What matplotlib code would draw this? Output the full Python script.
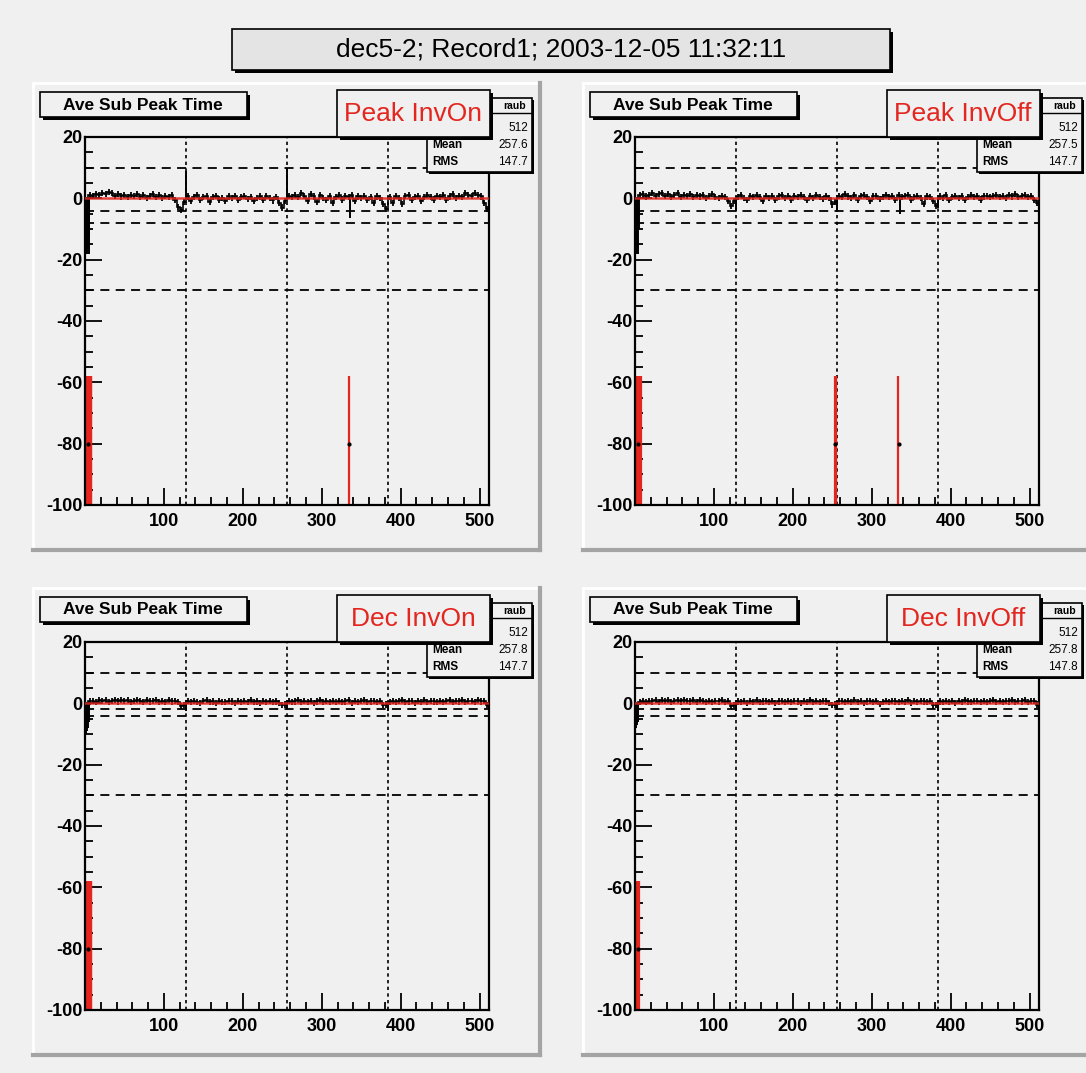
import numpy as np
import matplotlib.pyplot as plt
from matplotlib.patches import Rectangle
from matplotlib.ticker import MultipleLocator, FixedLocator

plt.rcParams['font.family'] = ['Liberation Sans', 'DejaVu Sans']
plt.rcParams['axes.unicode_minus'] = False

W, H = 1086, 1073
BG = '#f0f0f0'
RED = '#e3261f'

title = 'dec5-2; Record1; 2003-12-05 11:32:11'
hist_title = 'Ave Sub Peak Time'
labels = ['Peak InvOn', 'Peak InvOff', 'Dec InvOn', 'Dec InvOff']
means = ['257.6', '257.5', '257.8', '257.8']
rmss = ['147.7', '147.7', '147.7', '147.8']
entries = '512'

# average offset per group of 4 channels (128 groups)
tl_noise = [-1.0, 1.2, 0.8, 1.5, 1.0, 1.8, 1.3, 2.0, 1.6, 0.9, 1.4, 0.6, 1.1, 0.3, 1.2, 0.7,
            1.5, 0.4, 1.0, 0.2, 0.9, 1.3, 0.5, 1.1, 0.0, 0.8, 0.3, 1.0, -0.6, -2.8, -3.8, -1.2,
            0.6, -0.8, 0.4, 1.0, -0.5, 0.3, 0.9, -1.2, 0.5, 0.8, -0.4, 0.2, -0.9, 0.6, 0.0, 0.7,
            -0.6, 0.4, 0.8, -0.3, 0.5, -1.0, 0.2, 0.6, -0.5, 0.9, 0.1, -0.7, 0.4, -1.5, -3.0, -1.0,
            0.8, 0.3, 1.2, 0.5, 1.6, 0.9, -0.8, 1.4, 0.6, -1.2, 1.0, 0.2, -0.6, 0.7, -1.5, 0.4,
            1.1, -0.4, 0.8, 0.3, 1.0, -0.8, 0.6, 0.2, 0.9, -0.5, 0.4, -1.4, 0.6, 0.1, -1.8, -3.5,
            0.5, -1.5, 0.9, 0.2, -1.8, 0.7, 1.1, -0.6, 0.4, 0.9, -0.9, 0.3, 1.2, 0.5, -0.4, 0.8,
            0.3, 1.0, -0.5, 0.6, 1.4, 0.2, 0.9, 0.4, 1.6, 1.1, 0.7, 1.8, 1.2, 0.6, -1.5, -3.5]
tr_noise = [-1.0, 1.0, 1.4, 0.6, 1.2, 1.7, 0.9, 1.5, 1.8, 0.7, 1.3, 0.4, 1.1, 1.6, 0.5, 1.2,
            0.8, 1.4, 0.3, 1.0, 0.6, 1.2, 0.2, 0.9, 1.3, 0.5, 0.0, 0.8, 0.4, -0.8, -2.5, -1.0,
            0.5, 1.0, 0.2, -0.6, 0.8, 0.3, 1.1, 0.4, -0.9, 0.7, 0.2, 0.9, -0.5, 0.6, 1.0, 0.1,
            0.7, -0.4, 0.9, 0.3, 1.2, 0.5, -0.6, 0.8, 0.2, 1.0, 0.4, -0.3, 0.6, 0.0, -2.0, -1.2,
            0.9, 0.4, 1.3, 0.6, 0.2, 1.0, -0.5, 0.7, 1.1, 0.3, -0.8, 0.6, 0.9, -0.2, 0.5, 1.0,
            0.4, 0.8, -0.6, 1.1, 0.3, 0.7, 1.2, -0.4, 0.5, 0.9, 0.2, -1.8, 0.6, 0.3, -0.9, -2.5,
            0.6, 0.2, 1.0, -0.5, 0.4, 0.8, 0.1, 0.9, -0.6, 0.5, 1.1, 0.3, 0.7, -0.4, 0.6, 0.9,
            0.3, 0.8, 1.2, 0.5, 0.9, 0.2, 1.0, 0.6, 1.3, 0.4, 0.8, 1.1, 0.5, 0.7, -0.5, -1.5]
bl_noise = [-1.0, 0.6, 0.9, 0.4, 1.0, 0.7, 1.2, 0.5, 0.9, 1.1, 0.6, 1.0, 0.8, 1.2, 0.5, 0.9,
            1.1, 0.7, 0.4, 1.0, 0.6, 0.9, 1.2, 0.5, 0.8, 0.3, 1.0, 0.6, 0.9, 0.4, -0.8, -0.5,
            0.7, 0.3, 0.9, 0.5, 0.2, 0.8, 1.0, 0.4, 0.6, 0.1, 0.9, 0.5, 0.3, 0.8, 0.6, 0.2,
            0.9, 0.5, 0.7, 0.3, 1.0, 0.4, 0.6, 0.2, 0.8, 0.5, 0.9, 0.3, 0.6, 0.1, -0.6, -0.4,
            0.8, 0.4, 0.6, 1.0, 0.3, 0.7, 0.5, 0.9, 0.2, 0.6, 1.1, 0.4, 0.8, 0.3, 0.7, 0.5,
            0.9, 0.4, 0.6, 1.0, 0.2, 0.8, 0.5, 0.7, 1.1, 0.3, 0.6, 0.9, 0.4, 0.7, -0.6, -0.4,
            0.5, 0.8, 0.3, 0.7, 1.0, 0.4, 0.6, 0.9, 0.2, 0.7, 0.5, 1.0, 0.3, 0.8, 0.6, 0.4,
            0.9, 0.5, 0.7, 1.1, 0.4, 0.8, 0.6, 1.0, 0.3, 0.7, 0.9, 0.5, 1.2, 0.6, 0.8, -0.5]
br_noise = [-1.0, 0.5, 0.8, 0.3, 0.9, 0.6, 1.1, 0.4, 1.0, 0.7, 1.2, 0.5, 0.8, 1.0, 0.6, 1.1,
            0.9, 0.6, 1.2, 0.4, 1.0, 0.7, 0.5, 0.9, 0.3, 0.8, 0.6, 1.0, 0.4, 0.7, -0.8, -0.6,
            0.6, 0.3, 0.8, 0.2, 0.7, 0.5, 1.0, 0.3, 0.6, 0.9, 0.4, 0.8, 0.2, 0.6, 0.9, 0.5,
            0.7, 0.3, 0.9, 0.6, 0.2, 0.8, 0.4, 1.0, 0.5, 0.7, 0.3, 0.9, 0.6, 0.2, -0.5, -0.4,
            0.6, 0.9, 0.4, 0.7, 0.3, 1.0, 0.5, 0.8, 0.2, 0.6, 0.9, 0.4, 0.7, -0.3, 0.5, 0.8,
            0.4, 0.9, 0.6, 0.3, 0.8, 0.5, 1.0, 0.2, 0.7, 0.4, 0.9, 0.6, 0.3, 0.8, -0.7, -0.5,
            0.6, 0.3, 0.9, 0.5, 0.7, 0.2, 0.8, 0.4, 1.0, 0.6, 0.3, 0.7, 0.9, 0.5, 0.8, 0.4,
            0.7, 1.0, 0.5, 0.8, 0.3, 0.9, 0.6, 1.1, 0.4, 0.8, 0.6, 1.0, 0.5, 0.9, 0.7, -0.4]

# single channel spikes (channel, value)
tl_spikes = [(1, -18), (2, -18), (3, -16), (4, -12), (5, -18), (128, 9), (256, 10), (335, -6.5)]
tr_spikes = [(1, -18), (2, -16), (3, -18), (4, -10), (128, -4), (256, -4), (335, -5), (384, -3)]
bl_spikes = [(1, -10), (2, -9), (3, -8), (4, -6), (128, -2.5), (256, -1.5), (384, -2.5)]
br_spikes = [(1, -8), (2, -7), (3, -6), (128, -2.5), (256, -1.5), (384, -2.5)]

# flagged channels (red markers) and black dots at -80
tl_bad = [2, 3, 5, 6, 7, 8, 335]
tr_bad = [3, 4, 6, 7, 253, 255, 333]
bl_bad = [2, 3, 5, 6, 7, 8]
br_bad = [3, 4, 5]
tl_dots = [4, 335]
tr_dots = [4, 254, 335]
bl_dots = [4]
br_dots = [4]

peak_cuts = [10, -4, -8, -30]
dec_cuts = [10, -2, -4, -30]
grid_x = [128, 256, 384]

panels = [
    (tl_noise, tl_spikes, tl_bad, tl_dots, peak_cuts, 0, 0),
    (tr_noise, tr_spikes, tr_bad, tr_dots, peak_cuts, 550, 0),
    (bl_noise, bl_spikes, bl_bad, bl_dots, dec_cuts, 0, 505),
    (br_noise, br_spikes, br_bad, br_dots, dec_cuts, 550, 505),
]

fig = plt.figure(figsize=(W / 100, H / 100), dpi=100, facecolor=BG)

bg = fig.add_axes([0, 0, 1, 1], zorder=0)
bg.set_xlim(0, W)
bg.set_ylim(H, 0)
bg.axis('off')
fg = fig.add_axes([0, 0, 1, 1], zorder=10)
fg.set_xlim(0, W)
fg.set_ylim(H, 0)
fg.axis('off')
fg.patch.set_alpha(0)


def box(ax, x0, y0, x1, y1, fc, z, sh=3):
    ax.add_patch(Rectangle((x0 + sh, y0 + sh), x1 - x0, y1 - y0, facecolor='black',
                           edgecolor='none', zorder=z))
    ax.add_patch(Rectangle((x0, y0), x1 - x0, y1 - y0, facecolor=fc, edgecolor='black',
                           lw=1.2, zorder=z + 0.1))


# main title
box(fg, 232, 29, 890, 70, '#e4e4e4', 1)
fg.text(561, 50, title, ha='center', va='center', fontsize=19, zorder=2)

for i, (noise, spikes, bad, dots, cuts, dx, dy) in enumerate(panels):
    # pad with bevel
    px0, py0, px1, py1 = 33 + dx, 83 + dy, 540 + dx, 550 + dy
    bg.add_patch(Rectangle((px0, py0), px1 - px0, py1 - py0, facecolor=BG, edgecolor='none'))
    bg.plot([px0, px1], [py0, py0], color='white', lw=2)
    bg.plot([px0, px0], [py0, py1], color='white', lw=2)
    bg.plot([px0, px1], [py1, py1], color='#a4a4a4', lw=3)
    bg.plot([px1, px1], [py0, py1], color='#a4a4a4', lw=3)

    fx0, fy0, fx1, fy1 = 85 + dx, 137 + dy, 489 + dx, 505 + dy
    ax = fig.add_axes([fx0 / W, 1 - fy1 / H, (fx1 - fx0) / W, (fy1 - fy0) / H], zorder=2)
    ax.set_facecolor(BG)
    ax.set_xlim(0, 512)
    ax.set_ylim(-100, 20)

    for g in grid_x:
        ax.axvline(g, color='black', ls=(0, (2, 2)), lw=1.2)
    for c in cuts:
        ax.axhline(c, color='black', ls=(0, (5, 3.5)), lw=1.3)

    centers = np.arange(2, 512, 4)
    ax.stairs(noise, np.arange(0, 513, 4), color='black', lw=1.2)
    ax.errorbar(centers, noise, yerr=1.0, fmt='none', ecolor='black', elinewidth=1.3)
    ax.vlines([s[0] + 0.5 for s in spikes], 0, [s[1] for s in spikes], color='black', lw=1.4)
    ax.axhline(0, color=RED, lw=1.8, alpha=0.85, zorder=3)
    ax.vlines(bad, -100, -58, color=RED, lw=1.6)
    ax.plot(dots, [-80] * len(dots), 'o', color='black', ms=2)

    for s in ax.spines.values():
        s.set_linewidth(1.6)
    ax.xaxis.set_major_locator(FixedLocator([100, 200, 300, 400, 500]))
    ax.xaxis.set_minor_locator(MultipleLocator(20))
    ax.yaxis.set_major_locator(MultipleLocator(20))
    ax.yaxis.set_minor_locator(MultipleLocator(5))
    ax.tick_params(which='both', direction='in', top=False, right=False, width=1.3,
                   labelsize=13)
    ax.tick_params(which='major', length=12)
    ax.tick_params(which='minor', length=6)
    ax.tick_params(axis='x', pad=6)
    ax.tick_params(axis='y', pad=2)
    for t in ax.get_xticklabels() + ax.get_yticklabels():
        t.set_fontweight('bold')

    # histogram title box
    box(fg, 40 + dx, 92 + dy, 247 + dx, 117 + dy, BG, 1)
    fg.text(143 + dx, 105 + dy, hist_title, ha='center', va='center', fontsize=12.5,
            fontweight='bold', zorder=2)

    # stats box
    sx0, sx1 = 427 + dx, 532 + dx
    box(fg, sx0, 98 + dy, sx1, 172 + dy, BG, 3, sh=2)
    fg.plot([sx0, sx1], [113 + dy, 113 + dy], color='black', lw=1, zorder=3.5)
    fg.text(sx1 - 6, 106 + dy, 'raub', ha='right', va='center', fontsize=7.5,
            fontweight='bold', zorder=3.5)
    fg.text(sx1 - 4, 128 + dy, entries, ha='right', va='center', fontsize=8.5, zorder=3.5)
    fg.text(sx0 + 5, 145 + dy, 'Mean', ha='left', va='center', fontsize=8.5,
            fontweight='bold', zorder=3.5)
    fg.text(sx1 - 4, 145 + dy, means[i], ha='right', va='center', fontsize=8.5, zorder=3.5)
    fg.text(sx0 + 5, 162 + dy, 'RMS', ha='left', va='center', fontsize=8.5,
            fontweight='bold', zorder=3.5)
    fg.text(sx1 - 4, 162 + dy, rmss[i], ha='right', va='center', fontsize=8.5, zorder=3.5)

    # red label box
    box(fg, 337 + dx, 90 + dy, 490 + dx, 137 + dy, BG, 5)
    fg.text(413 + dx, 114 + dy, labels[i], ha='center', va='center', fontsize=19,
            color=RED, zorder=6)

fig.savefig('out.png', dpi=100, facecolor=BG)
